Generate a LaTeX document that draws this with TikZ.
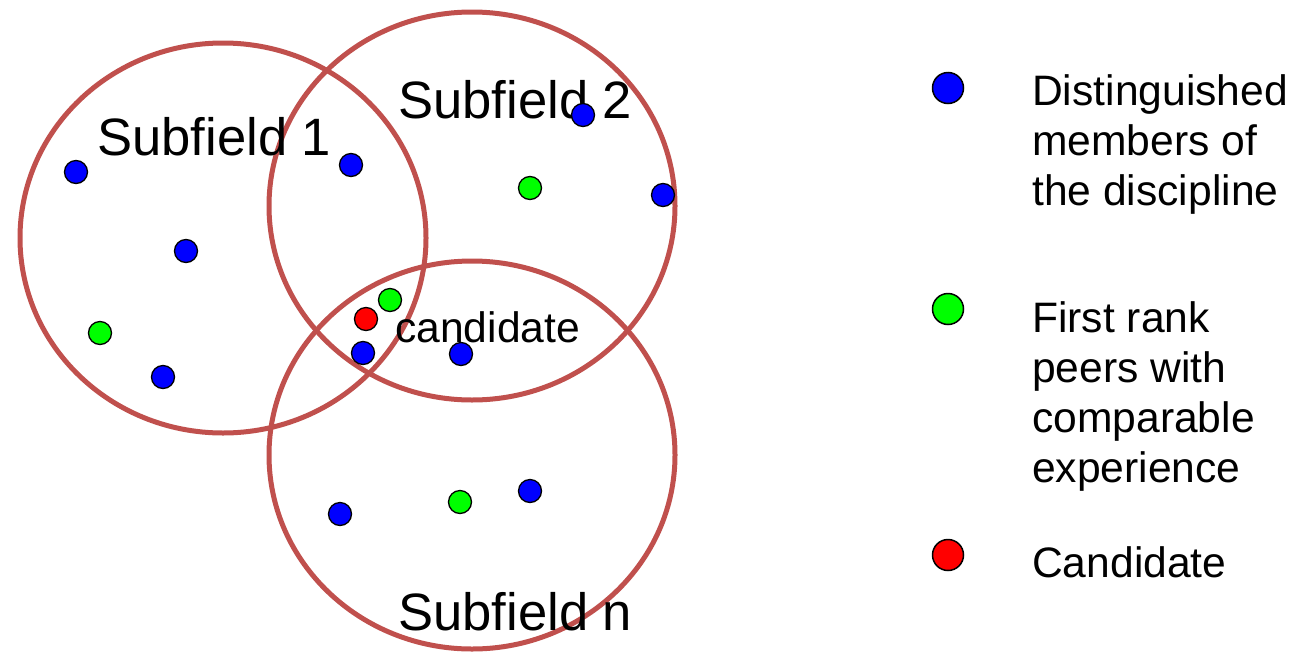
\documentclass[tikz,border=0pt]{standalone}
\usepackage{fontspec}
\setmainfont{Liberation Sans}
\usetikzlibrary{shapes.geometric}
\definecolor{ringred}{RGB}{192,80,77}
\tikzset{
  ring/.style={draw=ringred, line width=5pt, fill=none},
  member/.style={circle, draw=black, line width=1.3pt, inner sep=0pt, minimum size=23pt},
  legdot/.style={circle, draw=black, line width=1.5pt, inner sep=0pt, minimum size=31pt},
  blued/.style={fill={rgb,255:red,0;green,0;blue,255}},
  greend/.style={fill={rgb,255:red,0;green,255;blue,0}},
  redd/.style={fill={rgb,255:red,255;green,0;blue,0}},
  biglabel/.style={anchor=base west, inner sep=0pt, font=\fontsize{52.6}{60}\selectfont},
  midlabel/.style={anchor=base west, inner sep=0pt, font=\fontsize{42.6}{50}\selectfont}
}
\begin{document}
\begin{tikzpicture}[x=1pt,y=-1pt]
\useasboundingbox (0,0) rectangle (1305,651);
% subfield rings
\draw[ring] (223,238) ellipse [x radius=203, y radius=195];
\draw[ring] (472,206) ellipse [x radius=203, y radius=194];
\draw[ring] (472,455) ellipse [x radius=203, y radius=194];
% labels
\node[biglabel] (s1) at (97,155) {Subfield 1};
\node[biglabel] (s2) at (398,118) {Subfield 2};
\node[biglabel] (sn) at (398,630) {Subfield n};
\node[midlabel] (cand) at (395,342) {candidate};
% members
\node[member,blued] (b1) at (76,172) {};
\node[member,blued] (b2) at (351,165) {};
\node[member,blued] (b3) at (186,251) {};
\node[member,blued] (b4) at (163,377) {};
\node[member,blued] (b5) at (583,115) {};
\node[member,blued] (b6) at (663,195) {};
\node[member,blued] (b7) at (363,353) {};
\node[member,blued] (b8) at (461,354) {};
\node[member,blued] (b9) at (340,514) {};
\node[member,blued] (b10) at (530,491) {};
\node[member,greend] (g1) at (530,188) {};
\node[member,greend] (g2) at (390,300) {};
\node[member,greend] (g3) at (100,333) {};
\node[member,greend] (g4) at (460,502) {};
\node[member,redd] (r1) at (366,319) {};
% legend
\node[legdot,blued] (lb) at (948,88) {};
\node[legdot,greend] (lg) at (948,309) {};
\node[legdot,redd] (lr) at (948,555) {};
\node[midlabel] (tb1) at (1032,105) {Distinguished};
\node[midlabel] (tb2) at (1032,155) {members of};
\node[midlabel] (tb3) at (1032,205) {the discipline};
\node[midlabel] (tg1) at (1032,332) {First rank};
\node[midlabel] (tg2) at (1032,382) {peers with};
\node[midlabel] (tg3) at (1032,432) {comparable};
\node[midlabel] (tg4) at (1032,482) {experience};
\node[midlabel] (tr) at (1032,577) {Candidate};
\end{tikzpicture}
\end{document}
